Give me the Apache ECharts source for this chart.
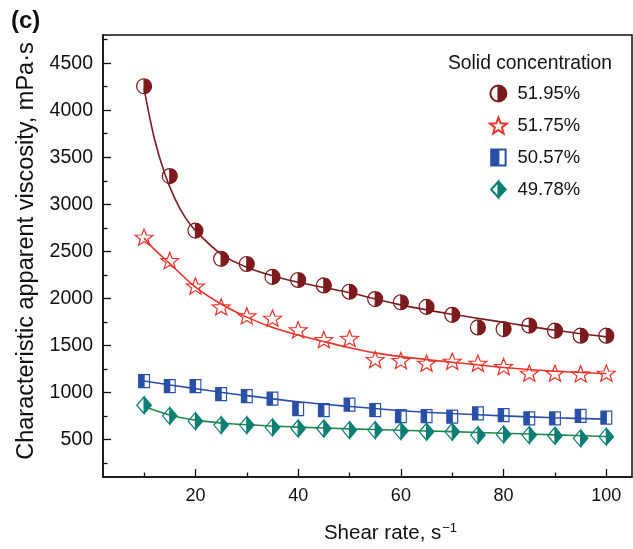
<!DOCTYPE html>
<html><head><meta charset="utf-8">
<script src="https://cdn.jsdelivr.net/npm/echarts@6/dist/echarts.min.js"></script>
<style>html,body{margin:0;padding:0;background:#fff}#c{width:633px;height:549px}</style>
</head><body><div id="c"></div>
<script>
// ---- data ----
const shearRate = [10,15,20,25,30,35,40,45,50,55,60,65,70,75,80,85,90,95,100];
const visc5195 = [4255,3300,2720,2420,2365,2228,2195,2137,2070,1992,1958,1909,1825,1690,1673,1710,1656,1603,1603];
const visc5175 = [2650,2401,2131,1909,1814,1789,1666,1561,1574,1350,1339,1310,1331,1310,1275,1204,1204,1197,1204];
const visc5057 = [1120,1067,1067,980,959,933,822,811,870,811,748,748,741,776,758,723,723,750,732];
const visc4978 = [863,750,694,652,652,627,616,616,599,599,588,581,581,546,553,546,539,511,529];

// fitted curves
const fitRate1 = [10,12,14,16,18,20,25,30,35,40,50,60,70,80,90,100];
const fit5195  = [4230,3700,3330,3060,2860,2720,2470,2330,2240,2170,2060,1930,1830,1745,1660,1590];
const fitRate2 = [10,12,15,20,25,30,35,40,45,50,55,60,70,80,90,100];
const fit5175  = [2640,2520,2370,2120,1940,1800,1690,1610,1540,1475,1420,1380,1320,1265,1225,1200];
const fitRate3 = [10,20,30,40,50,60,70,80,90,100];
const fit5057  = [1120,1040,965,900,850,805,775,750,730,715];
const fitRate4 = [10,15,20,25,30,40,50,60,70,80,90,100];
const fit4978  = [850,760,705,675,655,630,612,597,582,565,548,530];

const seriesNames = ['51.95%','51.75%','50.57%','49.78%'];
const xMajorTicks = [20,40,60,80,100];
const xMinorTicks = [10,30,50,70,90];
const yMajorTicks = [500,1000,1500,2000,2500,3000,3500,4000,4500];
const yMinorTicks = [250,750,1250,1750,2250,2750,3250,3750,4250,4750];

// ---- styling ----
const FONT = 'Arial, "Liberation Sans", sans-serif';
const C1 = '#7d1a1d', C2 = '#e8332b', C3 = '#2a4fa8', C4 = '#0b7f74', L4 = '#1f8a45';
const circleSym = 'path://M10,0A10,10 0 1,1 10,20A10,10 0 1,1 10,0ZM10,0A10,10 0 0,0 10,20L10,0Z';
const starSym = 'path://M10,0L12.47,6.6L19.51,6.91L13.99,11.3L15.88,18.09L10,14.2L4.12,18.09L6.01,11.3L0.49,6.91L7.53,6.6Z';
const squareSym = 'path://M0,0L18,0L18,20L0,20ZM9,0L9,20L18,20L18,0Z';
const diamondSym = 'path://M10,0L20,11L10,22L0,11ZM10,0L0,11L10,22Z';

const zip = (a, b) => a.map((v, i) => [v, b[i]]);

function fitLine(xs, ys, color) {
  return { type: 'line', data: zip(xs, ys), smooth: 0.35, showSymbol: false, symbol: 'none',
    lineStyle: { color: color, width: 1.6 }, silent: true, z: 1, legendHoverLink: false };
}
function pts(name, ys, sym, size, color, fill) {
  return { type: 'scatter', name: name, data: zip(shearRate, ys), symbol: sym, symbolSize: size,
    symbolKeepAspect: true, z: 3,
    itemStyle: { color: fill, borderColor: color, borderWidth: 1.2, opacity: 1 } };
}

const chart = echarts.init(document.getElementById('c'), null, { renderer: 'canvas' });
chart.setOption({
  animation: false,
  backgroundColor: '#fff',
  title: [
    { text: '(c)', left: 6, top: 4, textStyle: { fontFamily: FONT, fontSize: 24, fontWeight: 'bold', color: '#111' } },
    { text: 'Solid concentration', left: 443, top: 49, textStyle: { fontFamily: FONT, fontSize: 19.3, fontWeight: 'normal', color: '#111' } }
  ],
  grid: { left: 103, right: 1, top: 35, bottom: 68, show: true, borderColor: '#111', borderWidth: 1.5, backgroundColor: 'transparent' },
  legend: {
    data: seriesNames, orient: 'vertical', left: 484, top: 79, itemWidth: 22, itemHeight: 16, itemGap: 13,
    textStyle: { fontFamily: FONT, fontSize: 18.5, color: '#111', padding: [0,0,0,3] }
  },
  xAxis: [
    { type: 'value', min: 2, max: 105, position: 'bottom',
      name: 'Shear rate, s{sup|−1}', nameLocation: 'middle', nameGap: 45,
      nameTextStyle: { fontFamily: FONT, fontSize: 20.5, color: '#111', padding: [0,0,0,46],
        rich: { sup: { fontFamily: FONT, fontSize: 13, color: '#111', verticalAlign: 'top', padding: [0,0,10,1] } } },
      axisLine: { show: true, onZero: false, lineStyle: { color: '#111', width: 1.5 } },
      axisTick: { show: true, inside: true, length: 8, customValues: xMajorTicks, lineStyle: { color: '#111', width: 1.3 } },
      axisLabel: { show: true, customValues: xMajorTicks, margin: 10, fontFamily: FONT, fontSize: 18, color: '#111' },
      splitLine: { show: false } },
    { type: 'value', min: 2, max: 105, position: 'bottom',
      axisLine: { show: false }, axisLabel: { show: false }, splitLine: { show: false },
      axisTick: { show: true, inside: true, length: 4.5, customValues: xMinorTicks, lineStyle: { color: '#111', width: 1.3 } } }
  ],
  yAxis: [
    { type: 'value', min: 100, max: 4800, position: 'left',
      name: 'Characteristic apparent viscosity, mPa·s', nameLocation: 'middle', nameGap: 64,
      nameTextStyle: { fontFamily: FONT, fontSize: 23.5, color: '#111', padding: [0,0,0,10] },
      axisLine: { show: true, onZero: false, lineStyle: { color: '#111', width: 1.5 } },
      axisTick: { show: true, inside: true, length: 8, customValues: yMajorTicks, lineStyle: { color: '#111', width: 1.3 } },
      axisLabel: { show: true, customValues: yMajorTicks, formatter: v => String(v), margin: 10, fontFamily: FONT, fontSize: 19.5, color: '#111' },
      splitLine: { show: false } },
    { type: 'value', min: 100, max: 4800, position: 'left', offset: 0,
      axisLine: { show: false }, axisLabel: { show: false }, splitLine: { show: false },
      axisTick: { show: true, inside: true, length: 4.5, customValues: yMinorTicks, lineStyle: { color: '#111', width: 1.3 } } }
  ],
  series: [
    fitLine(fitRate1, fit5195, C1),
    fitLine(fitRate2, fit5175, C2),
    fitLine(fitRate3, fit5057, C3),
    fitLine(fitRate4, fit4978, L4),
    pts(seriesNames[0], visc5195, circleSym, [15,15], C1, C1),
    pts(seriesNames[1], visc5175, starSym, [18,17], C2, 'rgba(255,255,255,0)'),
    pts(seriesNames[2], visc5057, squareSym, [12,13], C3, C3),
    pts(seriesNames[3], visc4978, diamondSym, [16,17], C4, C4)
  ]
});
</script>
</body></html>
